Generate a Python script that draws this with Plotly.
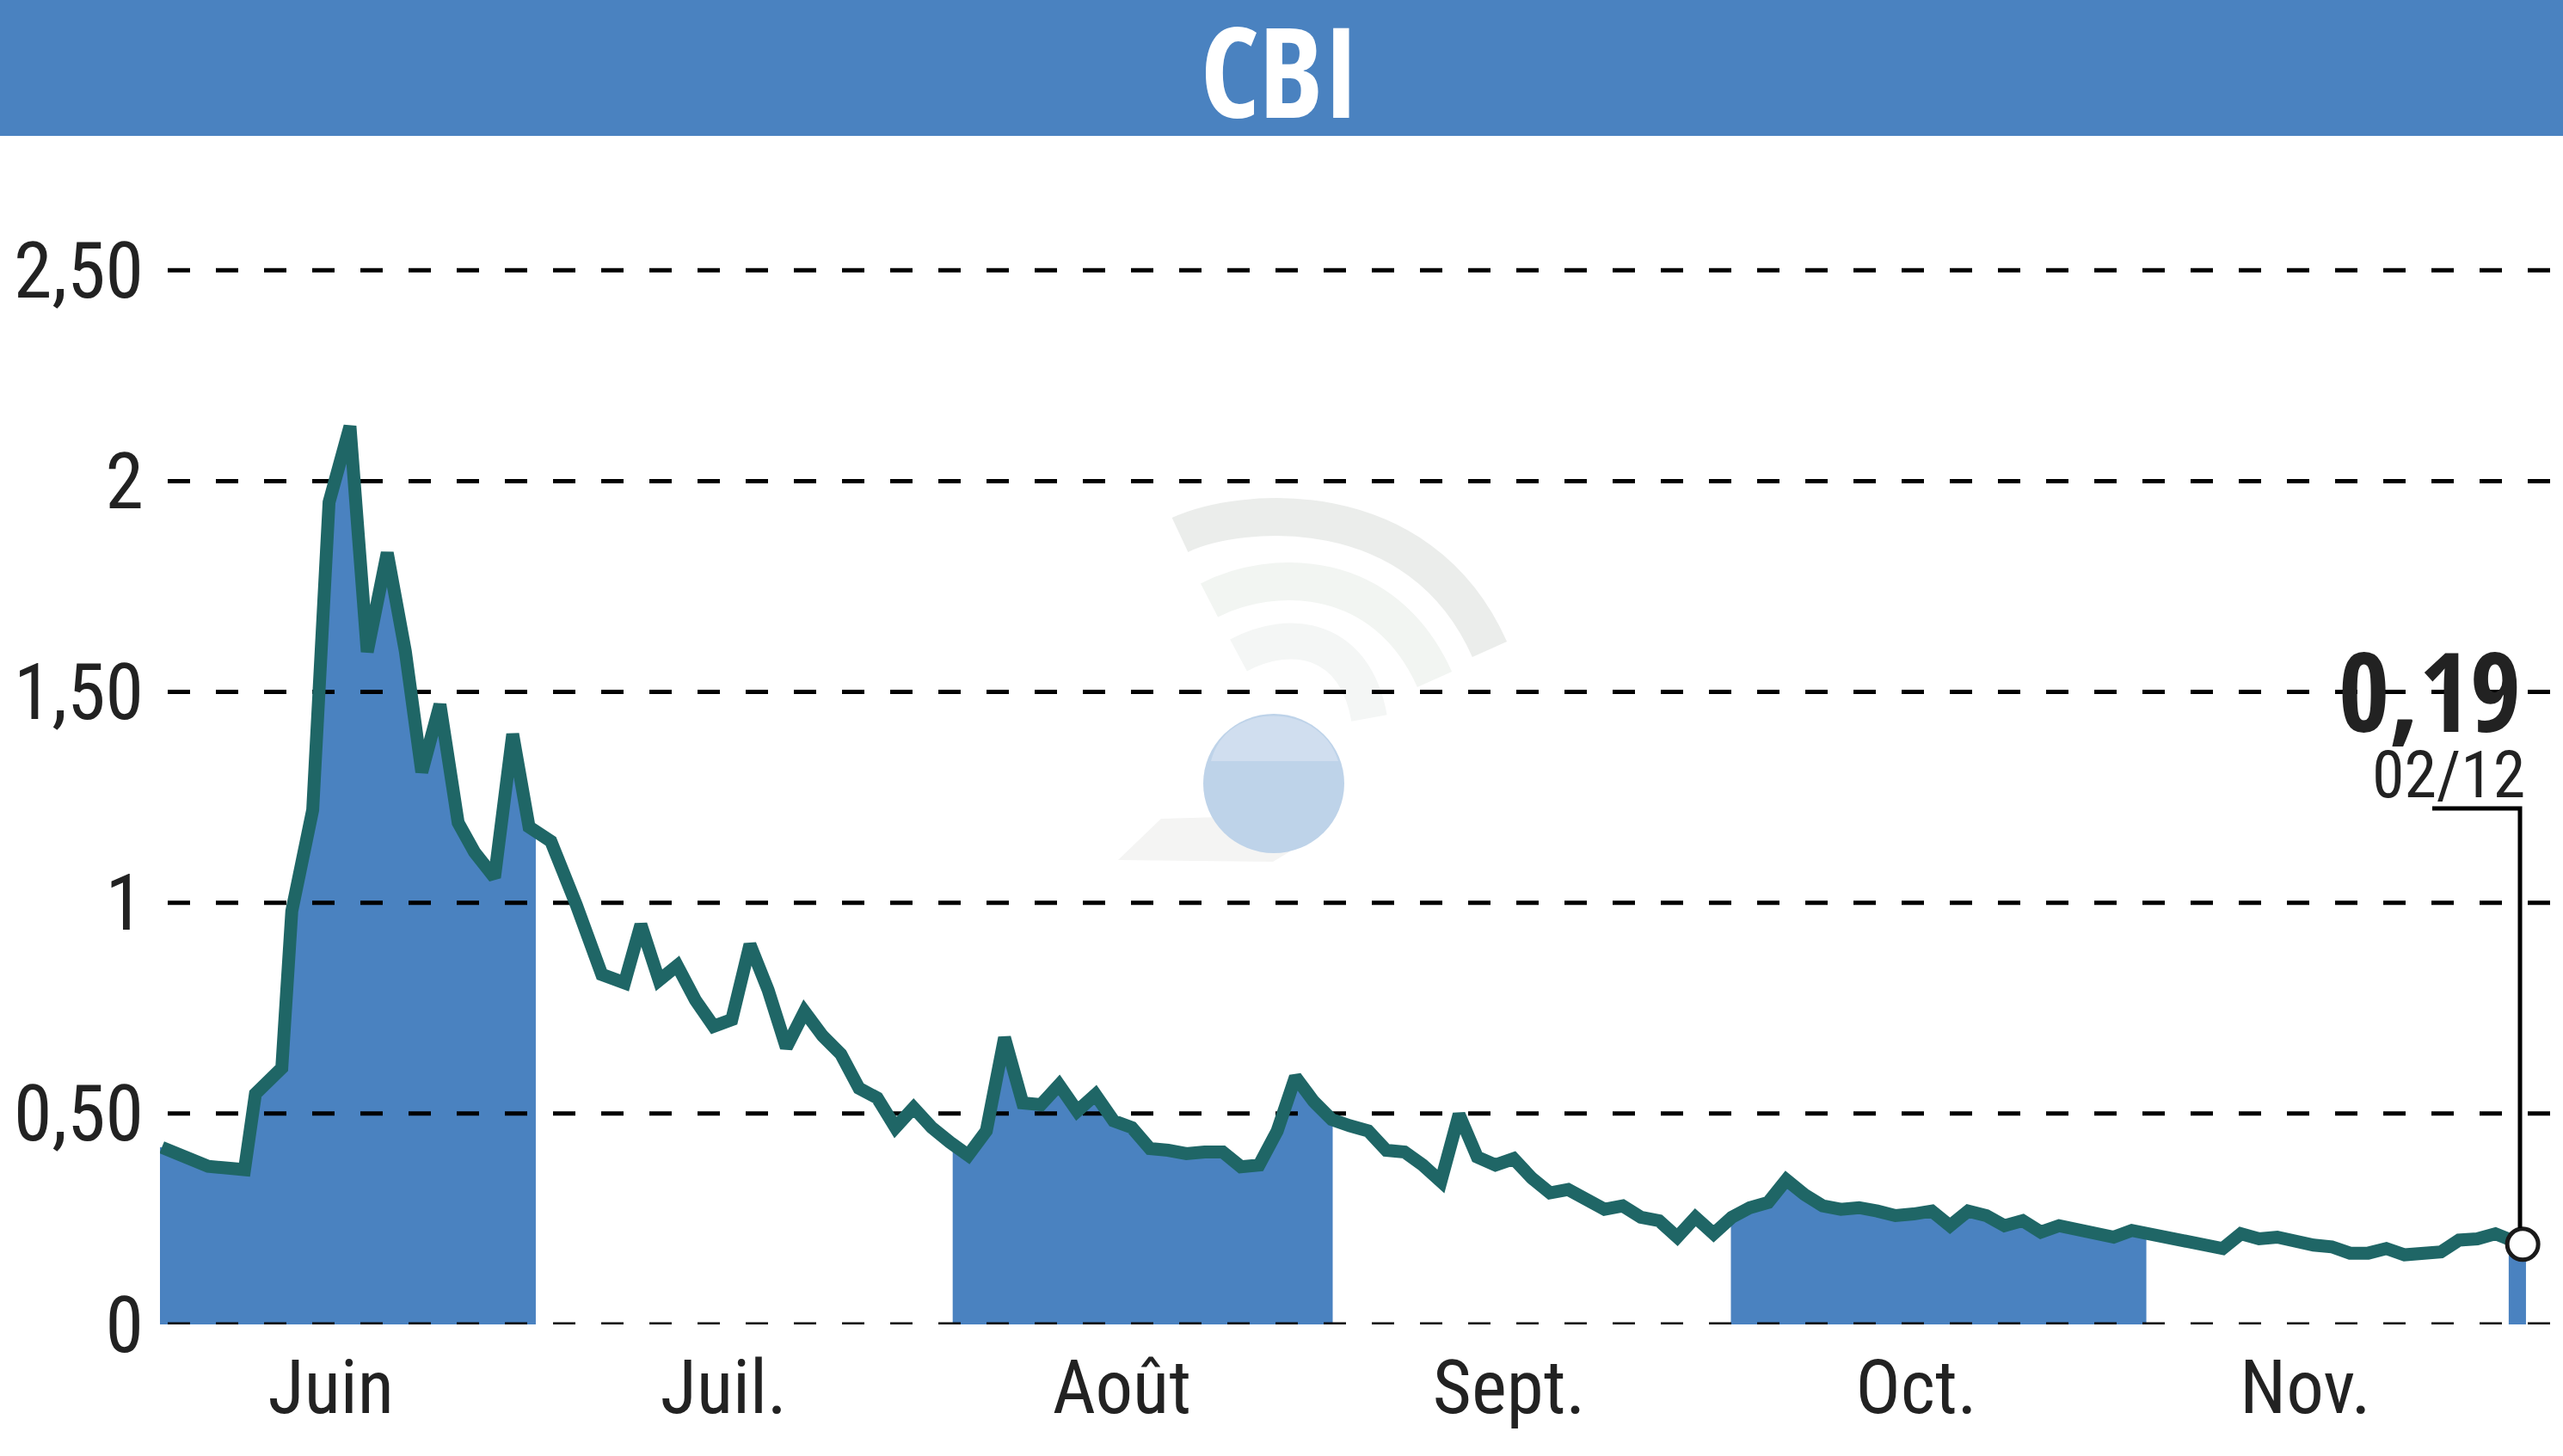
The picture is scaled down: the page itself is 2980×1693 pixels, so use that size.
import numpy as np
import plotly.graph_objects as go

title = "CBI"
y_ticks = [0, 0.5, 1, 1.5, 2, 2.5]
y_labels = ["0", "0,50", "1", "1,50", "2", "2,50"]
month_labels = ["Juin", "Juil.", "Août", "Sept.", "Oct.", "Nov."]
month_centres = [9.4, 31.0, 52.9, 74.2, 96.6, 118.0]
shaded_months = [(0.0, 20.67), (43.6, 64.5), (86.4, 109.25)]

sessions_early = [0.1, 2.65, 4.65, 5.25, 6.7, 7.25, 8.4, 9.3, 10.45, 11.4, 12.5, 13.5, 14.4,
                  15.4, 16.4, 17.3, 18.4, 19.4, 20.3, 21.5, 22.9, 24.3, 25.55]
prices_early = [0.42, 0.375, 0.367, 0.547, 0.608, 0.98, 1.22, 1.95, 2.13, 1.595, 1.83, 1.595, 1.31,
                1.47, 1.19, 1.12, 1.06, 1.40, 1.18, 1.146, 0.995, 0.83, 0.81]
prices_late = [0.948, 0.816, 0.851, 0.769, 0.707, 0.723, 0.901, 0.793, 0.657, 0.742, 0.684, 0.641,
               0.560, 0.537, 0.467, 0.514, 0.467, 0.432, 0.401, 0.459, 0.680, 0.525, 0.521, 0.568,
               0.506, 0.545, 0.483, 0.467, 0.417, 0.413, 0.405, 0.409, 0.409, 0.374, 0.378, 0.459,
               0.587, 0.529, 0.486, 0.471, 0.459, 0.413, 0.409, 0.378, 0.339, 0.498, 0.397, 0.378,
               0.393, 0.347, 0.312, 0.320, 0.300, 0.273, 0.281, 0.254, 0.246, 0.207, 0.254, 0.215,
               0.254, 0.277, 0.289, 0.343, 0.308, 0.281, 0.273, 0.277, 0.269, 0.258, 0.262, 0.269,
               0.234, 0.269, 0.258, 0.234, 0.246, 0.219, 0.234, 0.223, 0.219, 0.207, 0.223, 0.215,
               0.203, 0.192, 0.184, 0.180, 0.215, 0.203, 0.207, 0.196, 0.188, 0.184, 0.169, 0.169,
               0.180, 0.165, 0.169, 0.172, 0.200, 0.203, 0.215, 0.192]
last_session = 129.9
last_price = 0.19
last_label = "0,19"
last_date = "02/12"

sessions = sessions_early + [26.45 + k for k in range(len(prices_late))] + [last_session]
prices = prices_early + prices_late + [last_price]

W, H = 2980, 1693
L, T, B = 186, 158, 153
PX_PER_SESSION = 21.14
PX_PER_UNIT = 490.3
BLUE = "#4a82c0"
TEAL = "#1f6666"
FONT = "Roboto Condensed"
BOLD = "Open Sans Condensed"

def px(x):
    return (x - L) / (W - L)

def py(y):
    return (H - B - y) / (H - T - B)

fig = go.Figure()

for a, b in shaded_months:
    inner = [s for s in sessions if a < s < b]
    xs = [a] + inner + [b]
    ys = list(np.interp(xs, sessions, prices))
    fig.add_trace(go.Scatter(x=xs, y=ys, mode="lines", fill="tozeroy", fillcolor=BLUE,
                             line=dict(width=0, color=BLUE), hoverinfo="skip", showlegend=False))

fig.add_trace(go.Bar(x=[last_session], y=[last_price], width=[0.95], offset=-0.72,
                     marker=dict(color=BLUE, line=dict(width=0)), showlegend=False))

x_grid_start = (195 - L) / PX_PER_SESSION
x_grid_end = (W - L) / PX_PER_SESSION
for v in y_ticks:
    fig.add_trace(go.Scatter(x=[x_grid_start, x_grid_end], y=[v, v], mode="lines",
                             line=dict(color="#000000", width=5, dash="26px,30px"),
                             hoverinfo="skip", showlegend=False))

fig.add_trace(go.Scatter(x=sessions, y=prices, mode="lines",
                         line=dict(color=TEAL, width=15), showlegend=False))

fig.add_trace(go.Scatter(x=[last_session + 0.05], y=[last_price], mode="markers", cliponaxis=False,
                         marker=dict(size=36, color="#ffffff", line=dict(color="#1a1a1a", width=5)),
                         showlegend=False))

shapes = [
    dict(type="rect", xref="paper", yref="paper", x0=px(0), x1=px(W), y0=py(T), y1=py(0),
         fillcolor=BLUE, line=dict(width=0), layer="above"),
    dict(type="path", xref="paper", yref="paper",
         path=f"M {px(2828)} {py(940)} L {px(2930)} {py(940)} L {px(2930)} {py(1428)}",
         line=dict(color="#000000", width=5), layer="above"),
]

def arc(x0, y0, cx1, cy1, cx2, cy2, x1, y1, color, width):
    return dict(type="path", xref="paper", yref="paper", layer="below",
                path=f"M {px(x0)} {py(y0)} C {px(cx1)} {py(cy1)} {px(cx2)} {py(cy2)} {px(x1)} {py(y1)}",
                line=dict(color=color, width=width))

shapes += [
    arc(1372, 622, 1440, 590, 1650, 570, 1732, 755, "#ebedeb", 44),
    arc(1406, 698, 1480, 660, 1610, 660, 1668, 790, "#f2f5f2", 44),
    arc(1440, 762, 1500, 730, 1575, 740, 1592, 835, "#f4f6f5", 42),
    dict(type="path", xref="paper", yref="paper", layer="below",
         path=f"M {px(1300)} {py(1000)} L {px(1350)} {py(952)} L {px(1420)} {py(950)} "
              f"L {px(1500)} {py(990)} L {px(1480)} {py(1002)} Z",
         fillcolor="#f4f4f3", line=dict(width=0)),
    dict(type="circle", xref="paper", yref="paper", layer="below",
         x0=px(1399), x1=px(1563), y0=py(830), y1=py(992), fillcolor="#bed3e9", line=dict(width=0)),
    dict(type="path", xref="paper", yref="paper", layer="below",
         path=f"M {px(1408)} {py(885)} C {px(1425)} {py(815)} {px(1535)} {py(815)} {px(1556)} {py(885)} Z",
         fillcolor="#d0deef", line=dict(width=0)),
]

annotations = [
    dict(text=title, xref="paper", yref="paper", x=px(1488), y=py(80), xanchor="center", yanchor="middle",
         showarrow=False, font=dict(family=BOLD, size=146, color="#ffffff")),
    dict(text=last_label, xref="paper", yref="paper", x=px(2933), y=py(802), xanchor="right", yanchor="middle",
         showarrow=False, font=dict(family=BOLD, size=128, color="#222222")),
    dict(text=last_date, xref="paper", yref="paper", x=px(2938), y=py(901), xanchor="right", yanchor="middle",
         showarrow=False, font=dict(family=FONT, size=76, color="#222222")),
]

fig.update_layout(
    width=W, height=H,
    margin=dict(l=L, r=0, t=T, b=B, pad=0),
    paper_bgcolor="#ffffff", plot_bgcolor="rgba(0,0,0,0)",
    showlegend=False, shapes=shapes, annotations=annotations, barmode="overlay",
    xaxis=dict(range=[0, (W - L) / PX_PER_SESSION], tickmode="array", tickvals=month_centres,
               ticktext=month_labels, ticks="", showgrid=False, zeroline=False, showline=False,
               tickfont=dict(family=FONT, size=87, color="#222222"), ticklabelstandoff=15),
    yaxis=dict(range=[0, (H - T - B) / PX_PER_UNIT], tickmode="array", tickvals=y_ticks,
               ticktext=y_labels, ticks="", showgrid=False, zeroline=False, showline=False,
               tickfont=dict(family=FONT, size=90, color="#222222"), ticklabelstandoff=18),
)

fig.write_html("out.html", config=dict(displayModeBar=False),
               post_script="document.body.style.margin='0';")
